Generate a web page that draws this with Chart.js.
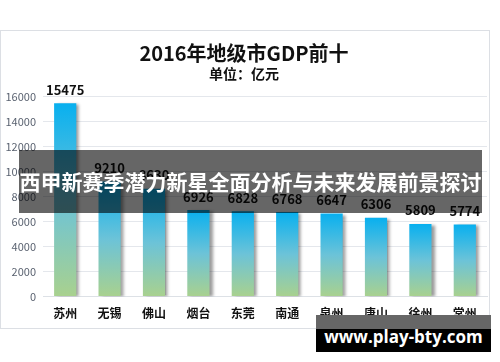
<!DOCTYPE html>
<html>
<head>
<meta charset="utf-8">
<script src="https://cdn.jsdelivr.net/npm/chart.js@4/dist/chart.umd.min.js"></script>
<style>
  html, body { margin: 0; padding: 0; background: #fff; }
  body { width: 500px; height: 362px; position: relative; overflow: hidden; font-family: "Noto Sans CJK SC", sans-serif; }
  #box { position: absolute; left: 0; top: 30px; width: 488px; height: 297px; border: 1px solid #dcdfe4; }
  #c { position: absolute; left: 1px; top: 31px; }
  #banner { position: absolute; left: 19px; top: 150px; width: 463px; height: 63px; background: rgba(0,0,0,0.6);
    color: #fff; font-weight: bold; font-size: 21px; line-height: 63px; text-align: center; white-space: nowrap; }
  #mark { position: absolute; left: 316px; top: 315px; width: 175px; height: 37px; }
  #mark .top { position: absolute; left: 0; top: 0; width: 100%; height: 14px; background: #666; }
  #mark .bot { position: absolute; left: 0; top: 14px; width: 100%; height: 23px; background: #000; }
  #mark span { position: absolute; left: 0; width: 100%; top: 10px; text-align: center; color: #fff; white-space: nowrap;
    font-family: "Open Sans", sans-serif; font-weight: bold; font-size: 17px; line-height: 24px; }
</style>
</head>
<body>
<div id="box"></div>
<canvas id="c" width="488" height="300"></canvas>
<div id="banner">西甲新赛季潜力新星全面分析与未来发展前景探讨</div>
<div id="mark"><div class="top"></div><div class="bot"></div><span>www.play-bty.com</span></div>
<script>
const cities = ['苏州', '无锡', '佛山', '烟台', '东莞', '南通', '泉州', '唐山', '徐州', '常州'];
const gdp = [15475, 9210, 8630, 6926, 6828, 6768, 6647, 6306, 5809, 5774];
const yMax = 16000;
const yStep = 2000;

const font = "'Noto Sans CJK SC', sans-serif";

function barFill(ctx) {
  const chart = ctx.chart;
  if (!chart.chartArea || ctx.type !== 'data') return '#0bb0ee';
  const y = chart.scales.y;
  const top = y.getPixelForValue(ctx.raw);
  const bottom = y.getPixelForValue(0);
  const g = chart.ctx.createLinearGradient(0, top, 0, bottom);
  g.addColorStop(0, '#08b0ef');
  g.addColorStop(0.5, '#6cc3d8');
  g.addColorStop(1, '#a9d18e');
  return g;
}

const shadow = {
  id: 'shadow',
  beforeDatasetDraw(chart) {
    const c = chart.ctx;
    c.save();
    c.shadowColor = 'rgba(0,0,0,0.4)';
    c.shadowOffsetX = 3;
    c.shadowOffsetY = 1;
    c.shadowBlur = 3;
  },
  afterDatasetDraw(chart) {
    chart.ctx.restore();
  }
};

const valueLabels = {
  id: 'valueLabels',
  afterDatasetsDraw(chart) {
    const c = chart.ctx;
    const meta = chart.getDatasetMeta(0);
    c.save();
    c.font = 'bold 13px ' + font;
    c.fillStyle = '#111';
    c.textAlign = 'center';
    c.textBaseline = 'bottom';
    meta.data.forEach((bar, i) => {
      c.fillText(String(gdp[i]), bar.x, bar.y - 7);
    });
    c.restore();
  }
};

new Chart(document.getElementById('c'), {
  type: 'bar',
  data: {
    labels: cities,
    datasets: [{
      data: gdp,
      backgroundColor: barFill,
      borderWidth: 0,
      categoryPercentage: 1,
      barPercentage: 0.5
    }]
  },
  options: {
    responsive: false,
    animation: false,
    layout: { padding: { top: 10, right: 2, bottom: 0, left: 0 } },
    plugins: {
      legend: { display: false },
      tooltip: { enabled: false },
      title: {
        display: true,
        text: '2016年地级市GDP前十',
        color: '#111',
        font: { family: font, size: 20, weight: 'bold', lineHeight: 1.2 },
        padding: { top: 0, bottom: 0 }
      },
      subtitle: {
        display: true,
        text: '单位：亿元',
        color: '#111',
        font: { family: font, size: 14, weight: 'bold', lineHeight: 1.2 },
        padding: { top: 0, bottom: 15 }
      }
    },
    scales: {
      x: {
        grid: { display: false, drawTicks: false },
        border: { display: true, color: '#dde1e6' },
        ticks: { color: '#111', padding: 10, font: { family: font, size: 12, weight: 'bold' } }
      },
      y: {
        min: 0,
        max: yMax,
        afterFit(s) { s.width = 42; },
        grid: { color: '#e4e7ec', drawTicks: false },
        border: { display: false },
        ticks: {
          stepSize: yStep,
          color: '#5a6270',
          padding: 7,
          font: { family: font, size: 11 },
          callback: v => String(v)
        }
      }
    }
  },
  plugins: [shadow, valueLabels]
});
</script>
</body>
</html>
